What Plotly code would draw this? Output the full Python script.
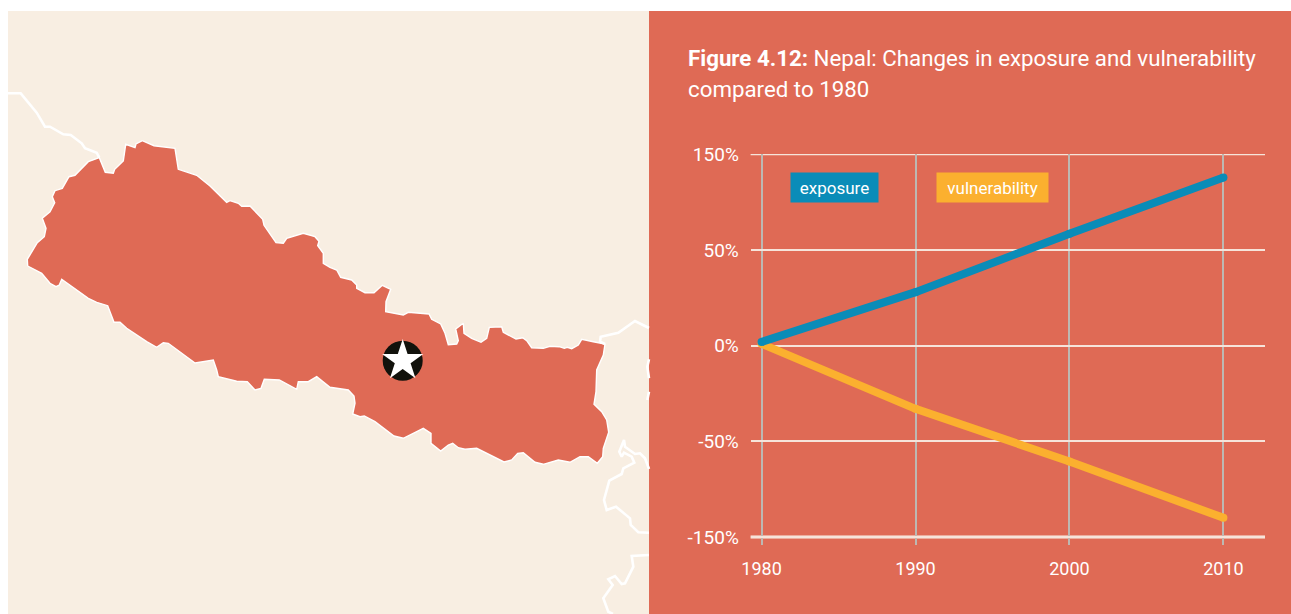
import numpy as np
import plotly.graph_objects as go

W, H = 1291, 614

# ---- chart data (% relative to 1980) ----
years = [1980, 1990, 2000, 2010]
exposure = [2, 28, 67, 126]
vulnerability = [1, -33, -71, -130]
y_tick_labels = ["-150%", "-50%", "0%", "50%", "150%"]
y_tick_values = [-150, -50, 0, 50, 150]   # the source axis spaces these evenly
x_tick_labels = ["1980", "1990", "2000", "2010"]

title_line1 = "<b>Figure 4.12:</b> Nepal: Changes in exposure and vulnerability"
title_line2 = "compared to 1980"

# ---- map outlines, traced in picture units ----
nepal_x = [27.7,27.3,37.3,44.3,46,42.3,50,54.7,52.3,55,62.3,69,75,88.3,99.3,105.3,113.3,114.7,123.3,125.7,135,136,142.3,154,175,178.3,196.7,210,226.7,230,238.3,241.7,250,262.7,264,276,283.3,286.7,303.3,315,319,317.7,323.3,323.3,330,336.7,340.7,351.7,356.7,356.7,365,374,382.3,390.7,386,385.7,403.3,408.3,429,431.7,440.7,445,448.3,456.7,458.3,455.7,463.3,464,471.7,481,486.7,489.3,501.7,503.3,516,522.7,526.7,531.7,543.3,550,559.3,564.3,567.3,571.7,578.3,581.7,593.3,605,603.3,599.3,596.7,596,594,601.7,606.7,608.7,603.3,602.7,597.3,588.3,580,570,558.3,543.3,535,523.3,517.7,511.7,504,476.7,465,458.3,452.7,448.3,440.7,431,431,423.3,403.3,394,375,364.3,360,352.7,355,354,348.3,330,320,316.7,308.3,298.3,296.7,279.3,264.3,261,255,247.3,236.7,218.3,216.7,213.3,195,168.3,163.3,156.7,146.7,126.7,120,114,107.7,96.7,88.3,61.7,59.3,56,50,41.7,27.7]
nepal_y = [266,259.3,242.7,236.7,228.3,218.3,211.7,202.7,196.7,190.7,188.3,176.7,175.3,161.7,157.7,172.3,173.3,169.3,161,144.3,147.7,144,140.7,145.7,148.3,169.3,175.3,186,202.3,200.7,203.3,206.3,206,219.3,225.3,242.7,243.3,238.3,233.3,236.7,241.3,245.7,253.3,263.3,267.3,270,277.3,280,285,288.3,292.7,292.7,285.3,289.3,301.7,311.7,315,312.3,314,319.3,324,333.3,344.7,344,340.7,329,323.3,333.3,338.3,342.3,338.3,327.3,326.7,332.3,339,337.7,340.7,347.7,348.3,346.3,346.7,348.3,347.3,348.7,345,339.3,341.7,344,355,365,370,391.7,404.3,411.7,420,432.3,448.3,456.7,463.3,456.7,456.7,462.3,460,464.3,462.3,452.7,453.3,460,462,448.3,449.3,447.7,443.3,445,451,443.3,433.3,428.3,438.3,436,421.7,416,416.7,414,403.3,396,390,387.3,380,376.7,381.7,381.7,389.3,380,379.3,388.3,390,381.7,381.3,376.7,370,360,363,343.3,342.7,347.3,341.7,328.3,322.3,322.3,305.7,302.3,298.3,279.3,285,286.7,283.3,273.3,266]
border_nw_x = [8,20.7,36.7,45,50,63.3,70.7,81.7,85,96.7,99.3]
border_nw_y = [93.3,93.3,112.7,126.7,126.7,134.3,135,143.3,148.3,152.7,157.7]
border_ne_x = [605,600,600.7,618.3,635,649]
border_ne_y = [344,341.7,336.7,332.7,321,328]
border_e1_x = [649,647.3,649]
border_e1_y = [359.3,366.7,378.3]
border_e2_x = [649,647.3]
border_e2_y = [391.7,400]
border_se_x = [649,645,640,635,625,624,619.3,621.7,624,631.7,634.3,623.3,621.7,609.3,604,606.7,616,630,630.7,638.3,649]
border_se_y = [469,458.3,453.3,454,446.7,440,451.7,456.7,452.7,456.7,462.7,468.3,474,480.7,500,510,506.7,518.3,525,532.3,532.7]
border_s_x = [649,631.7,633.3,625,621.7,615,608.3,612.7,603.3,608.3,613]
border_s_y = [555,556,566.7,583.3,584,576,579.3,585,598.3,611.7,614]
capital_x = [402.7]
capital_y = [360.7]

# ---- colours ----
PANEL = "#DF6A55"
CREAM = "#F8EEE2"
BLUE = "#0A8CB8"
AMBER = "#FBB02F"
INK = "#12120C"
FONT = "Roboto"

tick_positions = list(range(len(y_tick_values)))
def to_axis(values):
    return np.interp(values, y_tick_values, tick_positions) - 2

fig = go.Figure()

# map (full-figure overlay axes)
fig.add_trace(go.Scatter(x=nepal_x, y=nepal_y, xaxis="x2", yaxis="y2", mode="lines", fill="toself",
                         fillcolor=PANEL, line=dict(color="white", width=1.4), hoverinfo="skip", showlegend=False))
for bx, by in [(border_nw_x, border_nw_y), (border_ne_x, border_ne_y), (border_e1_x, border_e1_y),
               (border_e2_x, border_e2_y), (border_se_x, border_se_y), (border_s_x, border_s_y)]:
    fig.add_trace(go.Scatter(x=bx, y=by, xaxis="x2", yaxis="y2", mode="lines",
                             line=dict(color="white", width=2.6), hoverinfo="skip", showlegend=False))
fig.add_trace(go.Scatter(x=capital_x, y=capital_y, xaxis="x2", yaxis="y2", mode="markers",
                         marker=dict(symbol="circle", size=40, color=INK), hoverinfo="skip", showlegend=False))
fig.add_trace(go.Scatter(x=capital_x, y=capital_y, xaxis="x2", yaxis="y2", mode="markers",
                         marker=dict(symbol="star", size=31, color="white", line=dict(width=0)),
                         hoverinfo="skip", showlegend=False))

# chart
fig.add_trace(go.Scatter(x=years, y=to_axis(vulnerability), name="vulnerability", mode="lines+markers",
                         line=dict(color=AMBER, width=8), marker=dict(color=AMBER, size=8), showlegend=False))
fig.add_trace(go.Scatter(x=years, y=to_axis(exposure), name="exposure", mode="lines+markers",
                         line=dict(color=BLUE, width=8), marker=dict(color=BLUE, size=8), showlegend=False))

def px(x):
    return x / W
def py(y):
    return 1 - y / H

fig.update_layout(
    width=W, height=H, margin=dict(l=0, r=0, t=0, b=0, pad=0),
    paper_bgcolor="white", plot_bgcolor="rgba(0,0,0,0)",
    font=dict(family=FONT, color="white", size=19),
    xaxis=dict(domain=[px(750.6), px(1265)], anchor="y", range=[1979.29, 2012.7], automargin=False,
               tickvals=years, ticktext=x_tick_labels, showgrid=True, gridcolor="#BDB8B2", gridwidth=1.5,
               ticks="outside", ticklen=7, tickcolor="rgba(0,0,0,0)", zeroline=False, showline=False,
               tickfont=dict(size=18, color="white", family=FONT)),
    yaxis=dict(domain=[py(545), py(154)], anchor="x", range=[-2.084, 2.005], automargin=False,
               tickvals=[p - 2 for p in tick_positions], ticktext=y_tick_labels, showgrid=True,
               gridcolor="#F6E4DA", gridwidth=1.5, ticks="outside", ticklen=7,
               tickcolor="rgba(0,0,0,0)", zeroline=False, showline=False,
               tickfont=dict(size=19, color="white", family=FONT)),
    xaxis2=dict(domain=[0, 1], anchor="y2", range=[0, W], visible=False, fixedrange=True, automargin=False),
    yaxis2=dict(domain=[0, 1], anchor="x2", range=[H, 0], visible=False, fixedrange=True, automargin=False),
    shapes=[
        dict(type="rect", xref="paper", yref="paper", x0=px(8), x1=px(649), y0=py(614), y1=py(11),
             fillcolor=CREAM, line_width=0, layer="below"),
        dict(type="rect", xref="paper", yref="paper", x0=px(649), x1=px(1291), y0=py(614), y1=py(11),
             fillcolor=PANEL, line_width=0, layer="below"),
        dict(type="line", xref="x domain", yref="y", x0=0, x1=1, y0=tick_positions[0] - 2, y1=tick_positions[0] - 2,
             line=dict(color="#FBEFE6", width=3), layer="below"),
        dict(type="line", xref="x domain", yref="y", x0=0, x1=1, y0=tick_positions[-1] - 2, y1=tick_positions[-1] - 2,
             line=dict(color="#F6E4DA", width=1.5), layer="below"),
    ],
    annotations=[
        dict(xref="x2", yref="y2", x=685.5, y=58, xanchor="left", yanchor="middle", align="left", showarrow=False,
             text=title_line1, font=dict(size=22.3, color="white", family=FONT)),
        dict(xref="x2", yref="y2", x=685.5, y=89, xanchor="left", yanchor="middle", align="left", showarrow=False,
             text=title_line2, font=dict(size=22.3, color="white", family=FONT)),
        dict(xref="x2", yref="y2", x=834.5, y=187.5, xanchor="center", yanchor="middle", showarrow=False,
             text="exposure", width=85, height=27, bgcolor=BLUE, font=dict(size=17, color="white", family=FONT)),
        dict(xref="x2", yref="y2", x=992.5, y=187.5, xanchor="center", yanchor="middle", showarrow=False,
             text="vulnerability", width=109, height=27, bgcolor=AMBER, font=dict(size=17, color="white", family=FONT)),
    ],
)

fig.write_html("out.html", config={"displayModeBar": False},
               post_script="document.body.style.margin='0';document.body.style.overflow='hidden';")
